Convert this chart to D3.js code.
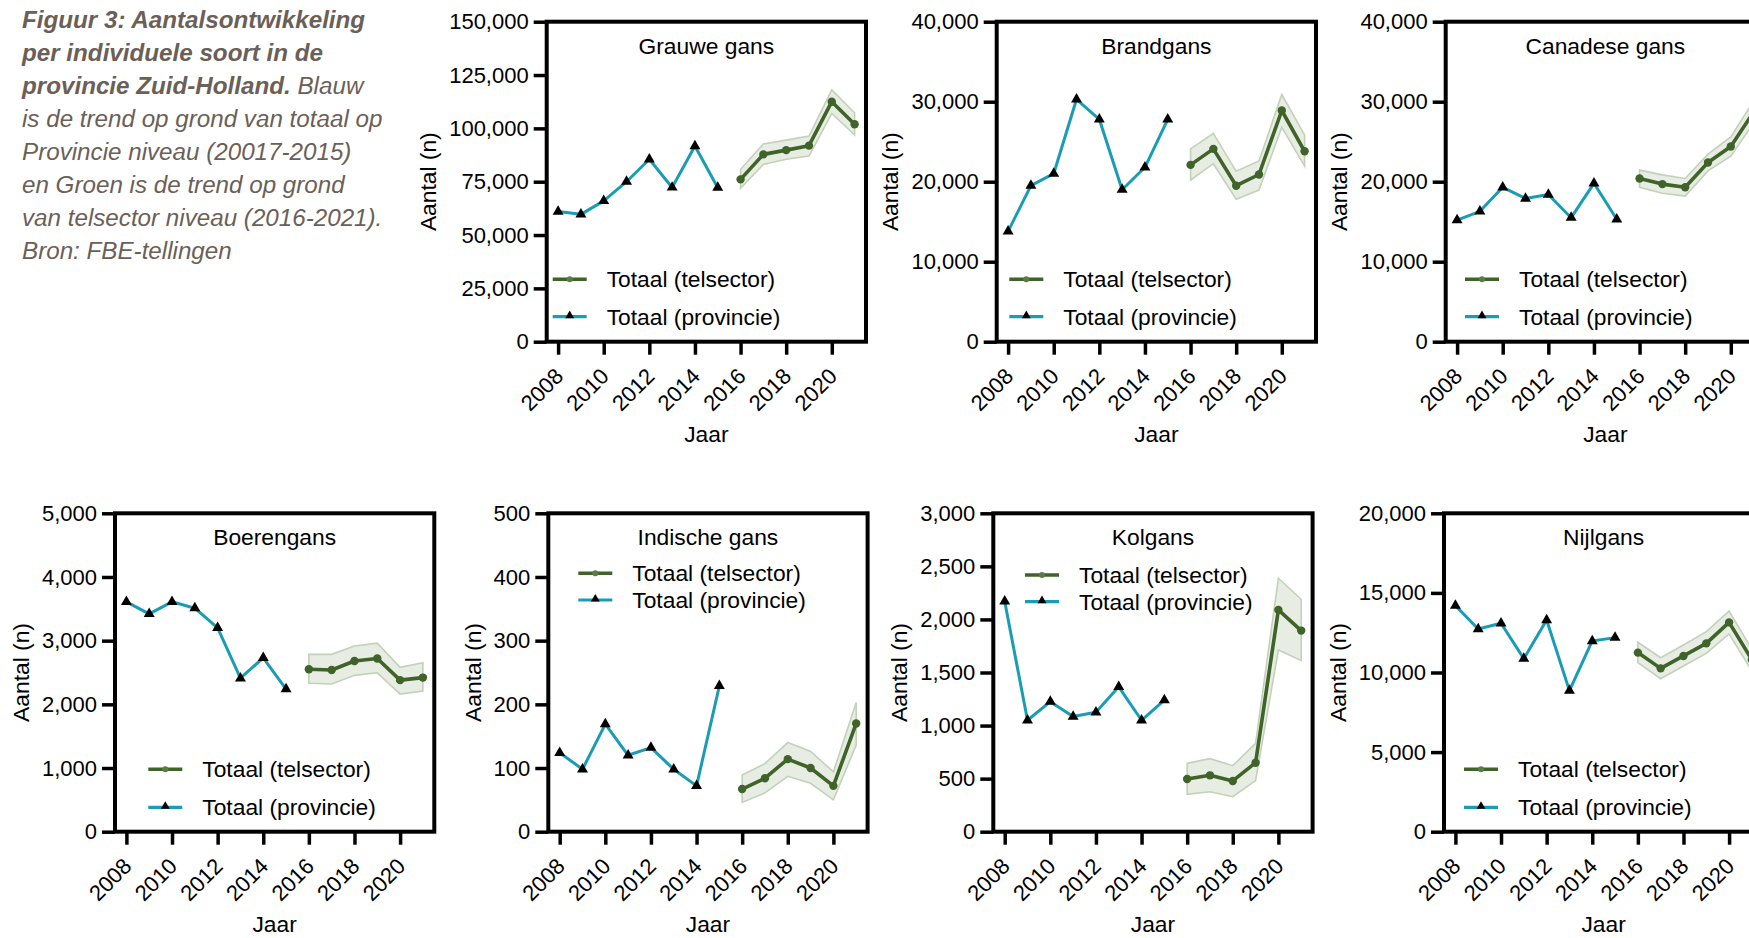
<!DOCTYPE html>
<html>
<head>
<meta charset="utf-8">
<script src="https://cdn.jsdelivr.net/npm/d3@7"></script>
<style>
  html, body { margin: 0; padding: 0; background: #ffffff; }
  svg { display: block; }
  text { font-family: "Liberation Sans", Arial, sans-serif; }
</style>
</head>
<body>
<svg id="fig" width="1749" height="938"></svg>
<script>
// ---- Data ----
const provincieJaren = [2008, 2009, 2010, 2011, 2012, 2013, 2014, 2015];
const telsectorJaren = [2016, 2017, 2018, 2019, 2020, 2021];
const jaarTicks = [2008, 2010, 2012, 2014, 2016, 2018, 2020];

const grauweProvincie = [61000, 59700, 66000, 75000, 85500, 72300, 91700, 72200];
const grauweTelsector = [76100, 87800, 89800, 91900, 112500, 101900];
const grauweOnder = [71900, 83100, 85500, 87000, 107000, 96900];
const grauweBoven = [80800, 92700, 94500, 96400, 118000, 107300];
const grauweTicks = [0, 25000, 50000, 75000, 100000, 125000, 150000];

const brandProvincie = [13800, 19500, 21000, 30300, 27800, 19000, 21800, 27800];
const brandTelsector = [22100, 24100, 19500, 20900, 28900, 23800];
const brandOnder = [20200, 22250, 17800, 18950, 26800, 21950];
const brandBoven = [24100, 26050, 21300, 22600, 30900, 25850];
const brandTicks = [0, 10000, 20000, 30000, 40000];

const canadeseProvincie = [15200, 16300, 19300, 17900, 18400, 15500, 19800, 15300];
const canadeseTelsector = [20400, 19700, 19300, 22400, 24400, 28700];
const canadeseOnder = [19300, 18550, 18200, 21350, 23200, 27300];
const canadeseBoven = [21450, 20850, 20400, 23450, 25600, 30100];
const canadeseTicks = [0, 10000, 20000, 30000, 40000];

const boerenProvincie = [3610, 3420, 3610, 3510, 3200, 2410, 2730, 2240];
const boerenTelsector = [2550, 2540, 2680, 2720, 2380, 2420];
const boerenOnder = [2330, 2320, 2455, 2495, 2160, 2210];
const boerenBoven = [2785, 2785, 2915, 2960, 2580, 2655];
const boerenTicks = [0, 1000, 2000, 3000, 4000, 5000];

const indischeProvincie = [124, 98, 169, 120, 132, 98, 72, 229];
const indischeTelsector = [67, 84, 114, 100, 72, 170];
const indischeOnder = [46, 61, 87, 76, 50, 136];
const indischeBoven = [89, 107, 140, 126, 94, 203];
const indischeTicks = [0, 100, 200, 300, 400, 500];

const kolProvincie = [2170, 1050, 1225, 1085, 1125, 1365, 1050, 1240];
const kolTelsector = [496, 531, 478, 650, 2090, 1895];
const kolOnder = [352, 377, 330, 481, 1712, 1612];
const kolBoven = [644, 688, 622, 833, 2388, 2190];
const kolTicks = [0, 500, 1000, 1500, 2000, 2500, 3000];

const nijlProvincie = [14200, 12730, 13090, 10870, 13300, 8860, 11980, 12190];
const nijlTelsector = [11250, 10260, 11040, 11830, 13150, 10800];
const nijlOnder = [10620, 9610, 10410, 11200, 12420, 10100];
const nijlBoven = [11900, 10930, 11730, 12570, 13860, 11450];
const nijlTicks = [0, 5000, 10000, 15000, 20000];

const legendaTelsector = "Totaal (telsector)";
const legendaProvincie = "Totaal (provincie)";

const bijschrift = [
  [{ t: "Figuur 3: Aantalsontwikkeling", b: true }],
  [{ t: "per individuele soort in de", b: true }],
  [{ t: "provincie Zuid-Holland.", b: true }, { t: " Blauw", b: false }],
  [{ t: "is de trend op grond van totaal op", b: false }],
  [{ t: "Provincie niveau (20017-2015)", b: false }],
  [{ t: "en Groen is de trend op grond", b: false }],
  [{ t: "van telsector niveau (2016-2021).", b: false }],
  [{ t: "Bron: FBE-tellingen", b: false }]
];

// ---- Panel layout ----
const panels = [
  { titel: "Grauwe gans", prov: grauweProvincie, tel: grauweTelsector, lo: grauweOnder, hi: grauweBoven, ticks: grauweTicks,
    x: 546.7, y: 21.7, w: 319.3, h: 320, legX: 6, legY: [257.6, 295] },
  { titel: "Brandgans", prov: brandProvincie, tel: brandTelsector, lo: brandOnder, hi: brandBoven, ticks: brandTicks,
    x: 996.7, y: 21.7, w: 319.3, h: 320, legX: 12.6, legY: [257.6, 295] },
  { titel: "Canadese gans", prov: canadeseProvincie, tel: canadeseTelsector, lo: canadeseOnder, hi: canadeseBoven, ticks: canadeseTicks,
    x: 1445.7, y: 21.7, w: 319.3, h: 320, legX: 19.3, legY: [257.6, 295] },
  { titel: "Boerengans", prov: boerenProvincie, tel: boerenTelsector, lo: boerenOnder, hi: boerenBoven, ticks: boerenTicks,
    x: 115, y: 513.3, w: 319.3, h: 318.4, legX: 33.3, legY: [256, 294] },
  { titel: "Indische gans", prov: indischeProvincie, tel: indischeTelsector, lo: indischeOnder, hi: indischeBoven, ticks: indischeTicks,
    x: 548.3, y: 513.3, w: 319.3, h: 318.4, legX: 30, legY: [60, 86.7] },
  { titel: "Kolgans", prov: kolProvincie, tel: kolTelsector, lo: kolOnder, hi: kolBoven, ticks: kolTicks,
    x: 993.3, y: 513.3, w: 319.3, h: 318.4, legX: 31.7, legY: [61.7, 88.4] },
  { titel: "Nijlgans", prov: nijlProvincie, tel: nijlTelsector, lo: nijlOnder, hi: nijlBoven, ticks: nijlTicks,
    x: 1444, y: 513.3, w: 319.3, h: 318.4, legX: 20, legY: [256, 294] }
];

const GROEN = "#3f6328";
const BLAUW = "#1a9db4";
const BAND_FILL = "#e7ede3";
const BAND_STROKE = "#c3d1bb";
const FS_TICK = 22;
const FS_TEXT = 22.8;

const svg = d3.select("#fig");

// ---- Caption ----
const cap = svg.append("g").attr("fill", "#6b6057").style("font-size", "24.2px").style("font-style", "italic");
bijschrift.forEach((regel, i) => {
  const t = cap.append("text").attr("x", 22).attr("y", 27.5 + i * 33.1);
  regel.forEach(s => t.append("tspan").style("font-weight", s.b ? "bold" : "normal").text(s.t));
});

const triangle = d3.symbol().type(d3.symbolTriangle).size(52);

panels.forEach(p => {
  const g = svg.append("g");
  const x = d3.scaleLinear().domain([2007.5, 2021.5]).range([p.x, p.x + p.w]);
  const y = d3.scaleLinear().domain([0, d3.max(p.ticks)]).range([p.y + p.h, p.y]);

  // confidence band for the telsector trend
  const band = telsectorJaren.map((j, i) => ({ j, lo: p.lo[i], hi: p.hi[i] }));
  g.append("path").datum(band)
    .attr("d", d3.area().x(d => x(d.j)).y0(d => y(d.lo)).y1(d => y(d.hi)))
    .attr("fill", BAND_FILL).attr("stroke", BAND_STROKE).attr("stroke-width", 1.6);

  const tel = telsectorJaren.map((j, i) => ({ j, v: p.tel[i] }));
  g.append("path").datum(tel)
    .attr("d", d3.line().x(d => x(d.j)).y(d => y(d.v)))
    .attr("fill", "none").attr("stroke", GROEN).attr("stroke-width", 3.6).attr("stroke-linejoin", "round");
  g.selectAll("circle.tel").data(tel).join("circle").attr("class", "tel")
    .attr("cx", d => x(d.j)).attr("cy", d => y(d.v)).attr("r", 4.2).attr("fill", GROEN);

  const prov = provincieJaren.map((j, i) => ({ j, v: p.prov[i] }));
  g.append("path").datum(prov)
    .attr("d", d3.line().x(d => x(d.j)).y(d => y(d.v)))
    .attr("fill", "none").attr("stroke", BLAUW).attr("stroke-width", 3).attr("stroke-linejoin", "round");
  g.selectAll("path.tri").data(prov).join("path").attr("class", "tri")
    .attr("d", triangle).attr("transform", d => `translate(${x(d.j)},${y(d.v)})`).attr("fill", "#000");

  // y axis
  const ya = g.append("g").attr("transform", `translate(${p.x},0)`)
    .call(d3.axisLeft(y).tickValues(p.ticks).tickSize(13).tickPadding(5).tickFormat(d3.format(",")));
  ya.select(".domain").remove();
  ya.selectAll(".tick line").attr("stroke", "#000").attr("stroke-width", 3.5);
  ya.selectAll(".tick text").attr("fill", "#000").style("font-size", FS_TICK + "px").attr("font-family", null);

  // x axis
  const xa = g.append("g").attr("transform", `translate(0,${p.y + p.h})`)
    .call(d3.axisBottom(x).tickValues(jaarTicks).tickSize(13).tickFormat(d3.format("d")));
  xa.select(".domain").remove();
  xa.selectAll(".tick line").attr("stroke", "#000").attr("stroke-width", 3.5);
  xa.selectAll(".tick text").attr("fill", "#000").style("font-size", FS_TICK + "px").attr("font-family", null)
    .attr("y", 0).attr("dy", null).attr("text-anchor", "end")
    .attr("transform", "translate(6,36) rotate(-45)");

  // frame
  g.append("rect").attr("x", p.x).attr("y", p.y).attr("width", p.w).attr("height", p.h)
    .attr("fill", "none").attr("stroke", "#000").attr("stroke-width", 4);

  // panel title
  g.append("text").attr("x", p.x + p.w / 2).attr("y", p.y + 32).attr("text-anchor", "middle")
    .style("font-size", FS_TEXT + "px").attr("fill", "#000").text(p.titel);

  // axis titles
  let maxW = 0;
  ya.selectAll(".tick text").each(function () { maxW = Math.max(maxW, this.getComputedTextLength()); });
  const ax = p.x - 18 - maxW - 13;
  g.append("text").attr("transform", `translate(${ax},${p.y + p.h / 2}) rotate(-90)`)
    .attr("text-anchor", "middle").style("font-size", FS_TEXT + "px").attr("fill", "#000").text("Aantal (n)");
  g.append("text").attr("x", p.x + p.w / 2).attr("y", p.y + p.h + 100).attr("text-anchor", "middle")
    .style("font-size", FS_TEXT + "px").attr("fill", "#000").text("Jaar");

  // legend
  const lx = p.x + p.legX;
  const rows = [
    { naam: legendaTelsector, kleur: GROEN, sw: 3.6, mark: "c" },
    { naam: legendaProvincie, kleur: BLAUW, sw: 3.2, mark: "t" }
  ];
  rows.forEach((r, i) => {
    const ry = p.y + p.legY[i];
    g.append("line").attr("x1", lx).attr("x2", lx + 34).attr("y1", ry).attr("y2", ry)
      .attr("stroke", r.kleur).attr("stroke-width", r.sw);
    if (r.mark === "c") {
      g.append("circle").attr("cx", lx + 17).attr("cy", ry).attr("r", 3).attr("fill", "#5b7d45");
    } else {
      g.append("path").attr("d", d3.symbol().type(d3.symbolTriangle).size(34)())
        .attr("transform", `translate(${lx + 17},${ry - 1})`).attr("fill", "#000");
    }
    g.append("text").attr("x", lx + 54).attr("y", ry).attr("dy", "0.35em")
      .style("font-size", FS_TEXT + "px").attr("fill", "#000").text(r.naam);
  });
});
</script>
</body>
</html>
